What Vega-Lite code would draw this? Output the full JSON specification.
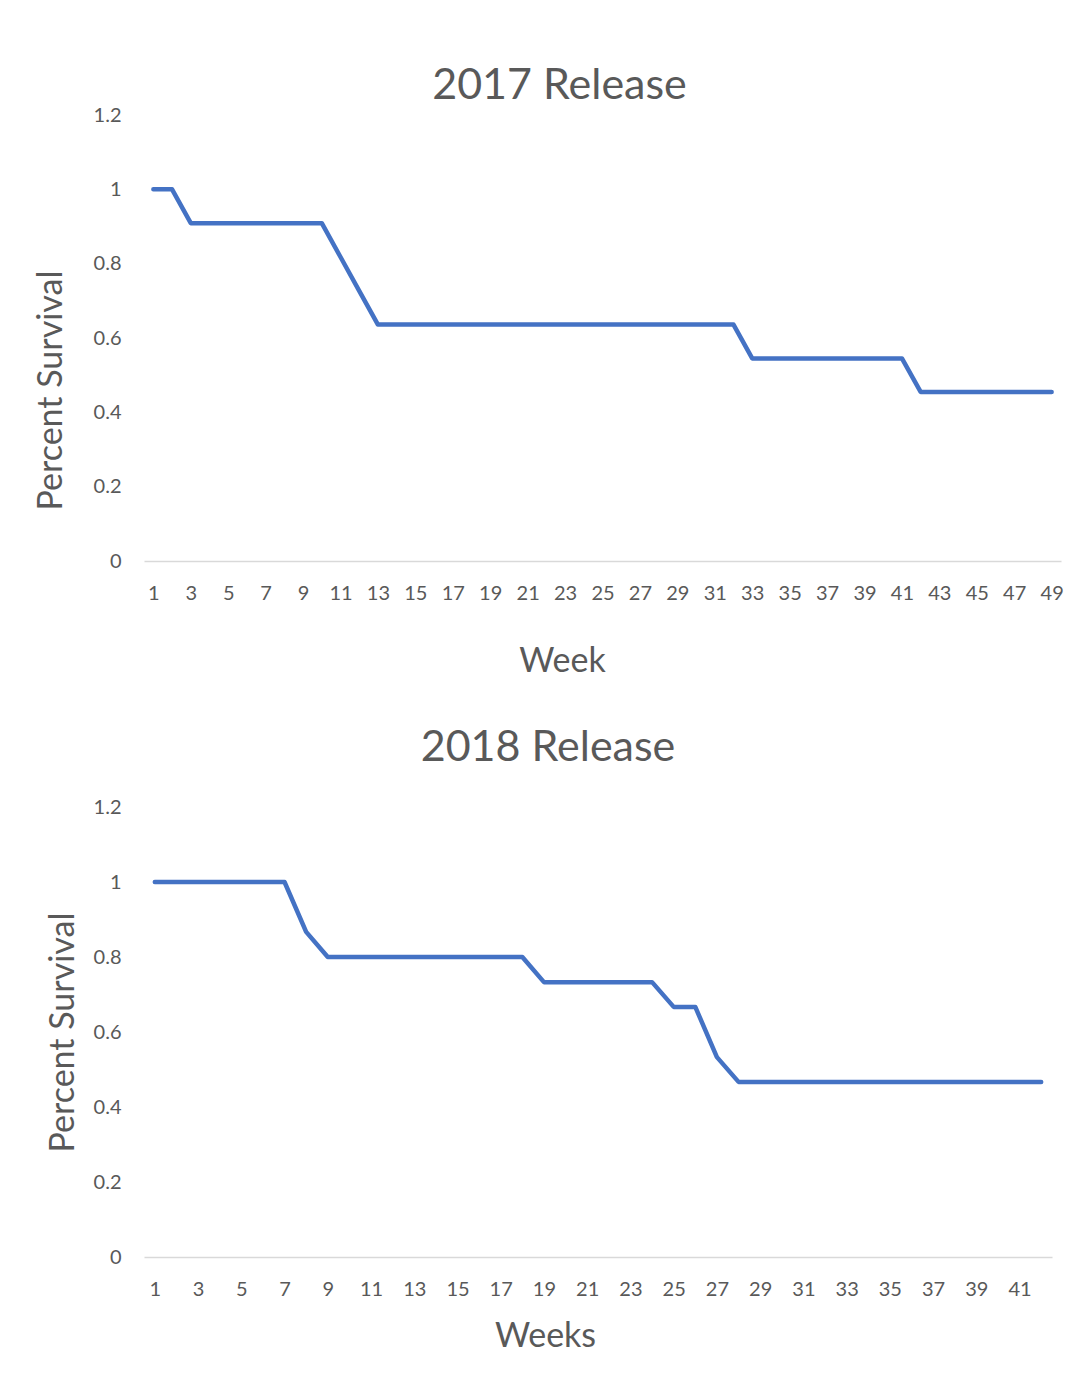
{
  "$schema": "https://vega.github.io/schema/vega-lite/v6.json",
  "padding": {"top": 65, "left": 34, "right": 21, "bottom": 5},
  "background": "white",
  "datasets": {
    "r2017": [
      {"week": 1, "survival": 1.0},
      {"week": 2, "survival": 1.0},
      {"week": 3, "survival": 0.909},
      {"week": 4, "survival": 0.909},
      {"week": 5, "survival": 0.909},
      {"week": 6, "survival": 0.909},
      {"week": 7, "survival": 0.909},
      {"week": 8, "survival": 0.909},
      {"week": 9, "survival": 0.909},
      {"week": 10, "survival": 0.909},
      {"week": 11, "survival": 0.818},
      {"week": 12, "survival": 0.727},
      {"week": 13, "survival": 0.636},
      {"week": 14, "survival": 0.636},
      {"week": 15, "survival": 0.636},
      {"week": 16, "survival": 0.636},
      {"week": 17, "survival": 0.636},
      {"week": 18, "survival": 0.636},
      {"week": 19, "survival": 0.636},
      {"week": 20, "survival": 0.636},
      {"week": 21, "survival": 0.636},
      {"week": 22, "survival": 0.636},
      {"week": 23, "survival": 0.636},
      {"week": 24, "survival": 0.636},
      {"week": 25, "survival": 0.636},
      {"week": 26, "survival": 0.636},
      {"week": 27, "survival": 0.636},
      {"week": 28, "survival": 0.636},
      {"week": 29, "survival": 0.636},
      {"week": 30, "survival": 0.636},
      {"week": 31, "survival": 0.636},
      {"week": 32, "survival": 0.636},
      {"week": 33, "survival": 0.545},
      {"week": 34, "survival": 0.545},
      {"week": 35, "survival": 0.545},
      {"week": 36, "survival": 0.545},
      {"week": 37, "survival": 0.545},
      {"week": 38, "survival": 0.545},
      {"week": 39, "survival": 0.545},
      {"week": 40, "survival": 0.545},
      {"week": 41, "survival": 0.545},
      {"week": 42, "survival": 0.455},
      {"week": 43, "survival": 0.455},
      {"week": 44, "survival": 0.455},
      {"week": 45, "survival": 0.455},
      {"week": 46, "survival": 0.455},
      {"week": 47, "survival": 0.455},
      {"week": 48, "survival": 0.455},
      {"week": 49, "survival": 0.455}
    ],
    "r2018": [
      {"week": 1, "survival": 1.0},
      {"week": 2, "survival": 1.0},
      {"week": 3, "survival": 1.0},
      {"week": 4, "survival": 1.0},
      {"week": 5, "survival": 1.0},
      {"week": 6, "survival": 1.0},
      {"week": 7, "survival": 1.0},
      {"week": 8, "survival": 0.867},
      {"week": 9, "survival": 0.8},
      {"week": 10, "survival": 0.8},
      {"week": 11, "survival": 0.8},
      {"week": 12, "survival": 0.8},
      {"week": 13, "survival": 0.8},
      {"week": 14, "survival": 0.8},
      {"week": 15, "survival": 0.8},
      {"week": 16, "survival": 0.8},
      {"week": 17, "survival": 0.8},
      {"week": 18, "survival": 0.8},
      {"week": 19, "survival": 0.733},
      {"week": 20, "survival": 0.733},
      {"week": 21, "survival": 0.733},
      {"week": 22, "survival": 0.733},
      {"week": 23, "survival": 0.733},
      {"week": 24, "survival": 0.733},
      {"week": 25, "survival": 0.667},
      {"week": 26, "survival": 0.667},
      {"week": 27, "survival": 0.533},
      {"week": 28, "survival": 0.467},
      {"week": 29, "survival": 0.467},
      {"week": 30, "survival": 0.467},
      {"week": 31, "survival": 0.467},
      {"week": 32, "survival": 0.467},
      {"week": 33, "survival": 0.467},
      {"week": 34, "survival": 0.467},
      {"week": 35, "survival": 0.467},
      {"week": 36, "survival": 0.467},
      {"week": 37, "survival": 0.467},
      {"week": 38, "survival": 0.467},
      {"week": 39, "survival": 0.467},
      {"week": 40, "survival": 0.467},
      {"week": 41, "survival": 0.467},
      {"week": 42, "survival": 0.467}
    ]
  },
  "config": {
    "font": "Lato",
    "view": {"stroke": null},
    "title": {"fontSize": 43, "fontWeight": "normal", "color": "#595959"},
    "axis": {
      "labelFont": "Lato", "titleFont": "Lato",
      "labelFontSize": 20, "labelColor": "#595959",
      "titleFontSize": 34, "titleFontWeight": "normal", "titleColor": "#595959",
      "ticks": false, "grid": false
    }
  },
  "vconcat": [
    {
      "title": {"text": "2017 Release", "dx": -43, "offset": -3},
      "width": 917,
      "height": 446,
      "data": {"name": "r2017"},
      "mark": {"type": "line", "color": "#4472C4", "strokeWidth": 4.5, "strokeCap": "round", "strokeJoin": "round"},
      "encoding": {
        "x": {
          "field": "week", "type": "quantitative",
          "scale": {"domain": [0.5, 49.5], "nice": false, "zero": false},
          "axis": {
            "title": "Week", "values": [1,3,5,7,9,11,13,15,17,19,21,23,25,27,29,31,33,35,37,39,41,43,45,47,49],
            "domainColor": "#d9d9d9", "domainWidth": 1.5, "labelPadding": 22, "titlePadding": 41,
            "titleX": 418, "labelFlush": false
          }
        },
        "y": {
          "field": "survival", "type": "quantitative",
          "scale": {"domain": [0, 1.2], "nice": false},
          "axis": {
            "title": "Percent Survival", "values": [0, 0.2, 0.4, 0.6, 0.8, 1, 1.2], "format": "~g",
            "domain": false, "labelPadding": 23, "titlePadding": 25, "titleY": 275
          }
        }
      }
    },
    {
      "title": {"text": "2018 Release", "dx": -50, "offset": 27},
      "width": 908,
      "height": 450,
      "data": {"name": "r2018"},
      "mark": {"type": "line", "color": "#4472C4", "strokeWidth": 4.5, "strokeCap": "round", "strokeJoin": "round"},
      "encoding": {
        "x": {
          "field": "week", "type": "quantitative",
          "scale": {"domain": [0.5, 42.5], "nice": false, "zero": false},
          "axis": {
            "title": "Weeks", "values": [1,3,5,7,9,11,13,15,17,19,21,23,25,27,29,31,33,35,37,39,41],
            "domainColor": "#d9d9d9", "domainWidth": 1.5, "labelPadding": 22, "titlePadding": 20,
            "titleX": 401, "labelFlush": false
          }
        },
        "y": {
          "field": "survival", "type": "quantitative",
          "scale": {"domain": [0, 1.2], "nice": false},
          "axis": {
            "title": "Percent Survival", "values": [0, 0.2, 0.4, 0.6, 0.8, 1, 1.2], "format": "~g",
            "domain": false, "labelPadding": 23, "titlePadding": 13
          }
        }
      }
    }
  ],
  "spacing": 49
}
